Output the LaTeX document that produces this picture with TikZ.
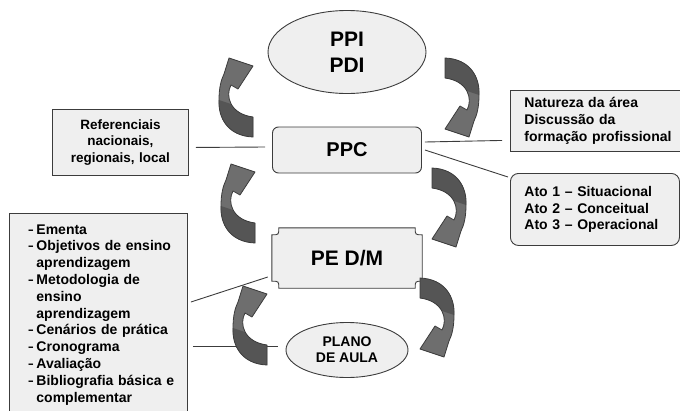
\documentclass[tikz,border=0pt]{standalone}
\usepackage{fontspec}
\setmainfont{Liberation Sans}
\usepackage{amsmath,amssymb}
\usepackage{tikz}
\usetikzlibrary{shapes,arrows,positioning,backgrounds}

\definecolor{boxfill}{HTML}{EFEFEF}
\definecolor{boxline}{HTML}{3C3C3C}
\definecolor{arrowfill}{HTML}{6E6E6E}
\definecolor{arrowdark}{HTML}{555555}

\newcommand{\dashitem}[1]{\hangindent=8pt\hangafter=1\makebox[8pt][l]{\scalebox{0.65}[1]{–}}#1\par}

\begin{document}
\begin{tikzpicture}[x=1pt,y=-1pt]
    \tikzstyle{box} = [draw=boxline, fill=boxfill, line width=0.9pt, font=\bfseries];
    \tikzstyle{oval} = [box, shape=ellipse, inner sep=0pt, align=center];
    \tikzstyle{note} = [box, shape=rectangle, anchor=north west, inner xsep=14pt];
    \tikzstyle{line} = [draw=boxline, line width=0.9pt];
    \tikzset{bendarrow/.pic={
        \fill [arrowfill] (0,39) .. controls (-25,38) and (-35,20) .. (-34,2)
            .. controls (-34,-10) and (-32,-18) .. (-29,-24) -- (-24,-40) -- (0,-32) -- (-15,-9) -- (-22,-13)
            .. controls (-28,-2) and (-23,16) .. (0,19) -- cycle;
        \fill [arrowdark] (0,39) .. controls (-25,38) and (-35,20) .. (-34,2) -- (-22.5,5.9)
            .. controls (-18.75,12.25) and (-11.5,17.5) .. (0,19) -- cycle;
        \draw [boxline, line width=0.8pt, line join=round] (0,39) .. controls (-25,38) and (-35,20) .. (-34,2)
            .. controls (-34,-10) and (-32,-18) .. (-29,-24) -- (-24,-40) -- (0,-32) -- (-15,-9) -- (-22,-13)
            .. controls (-28,-2) and (-23,16) .. (0,19) -- cycle;
    }}

    \useasboundingbox (0,0) rectangle (680,410);

    % Nodes
    \node [oval, minimum width=158pt, minimum height=83pt, font=\bfseries\fontsize{21}{26}\selectfont] (ppi) at (347,52) {PPI\\PDI};
    \node [box, node distance=98pt, below of=ppi, rounded corners=6pt, minimum width=149pt, minimum height=46pt, font=\bfseries\fontsize{20}{24}\selectfont] (ppc) {PPC};
    \node [node distance=108pt, below of=ppc, minimum width=150pt, minimum height=60pt, font=\bfseries\fontsize{21}{25}\selectfont] (pedm) {PE D/M};
    \node [oval, node distance=92pt, below of=pedm, minimum width=122pt, minimum height=55pt, font=\bfseries\fontsize{14}{16}\selectfont] (plano) {PLANO\\DE AULA};

    \node [note, text width=108pt, minimum height=66pt, align=center, font=\bfseries\fontsize{13.5}{16.7}\selectfont] (refs) at (52,109) {Referenciais\\nacionais,\\regionais, local};
    \node [note, text width=162pt, minimum height=61pt, align=left, font=\bfseries\fontsize{14}{17}\selectfont] (area) at (510,90) {Natureza da área\\Discussão da\\formação profissional};
    \node [note, rounded corners=8pt, text width=141pt, minimum height=72pt, align=left, font=\bfseries\fontsize{14}{16.6}\selectfont] (atos) at (510,173) {Ato 1 – Situacional\\Ato 2 – Conceitual\\Ato 3 – Operacional};
    \node [note, inner xsep=11.5pt, inner ysep=11pt, text width=155pt, align=left, font=\bfseries\fontsize{14}{16.8}\selectfont] (topics) at (9,213) {\leftskip=7.5pt
        \dashitem{Ementa}
        \dashitem{Objetivos de ensino\newline aprendizagem}
        \dashitem{Metodologia de\newline ensino\newline aprendizagem}
        \dashitem{Cenários de prática}
        \dashitem{Cronograma}
        \dashitem{Avaliação}
        \dashitem{Bibliografia básica e\newline complementar}};

    \begin{scope}[on background layer]
        \draw [line, fill=boxfill] ([xshift=7pt]pedm.north west) -- ([xshift=-7pt]pedm.north east)
            .. controls ([xshift=-7pt,yshift=-7pt]pedm.north east) .. ([yshift=-7pt]pedm.north east)
            -- ([yshift=7pt]pedm.south east)
            .. controls ([xshift=-7pt,yshift=7pt]pedm.south east) .. ([xshift=-7pt]pedm.south east)
            -- ([xshift=7pt]pedm.south west)
            .. controls ([xshift=7pt,yshift=7pt]pedm.south west) .. ([yshift=7pt]pedm.south west)
            -- ([yshift=-7pt]pedm.north west)
            .. controls ([xshift=7pt,yshift=-7pt]pedm.north west) .. ([xshift=7pt]pedm.north west) -- cycle;
    \end{scope}

    % Paths
    \draw [line] ([xshift=7pt,yshift=-5pt]refs.east) -- ([xshift=-7pt,yshift=3pt]ppc.west);
    \draw [line] ([xshift=3pt,yshift=8pt]ppc.east) -- ([xshift=-8pt,yshift=-19.5pt]area.west);
    \draw [line] ([xshift=3pt]ppc.east) -- ([xshift=-2pt,yshift=-4pt]atos.north west);
    \draw [line] ([xshift=3pt,yshift=-89pt]topics.north east) -- ([xshift=-4pt,yshift=-19pt]pedm.west);
    \draw [line] ([xshift=5pt,yshift=-133pt]topics.north east) -- ([xshift=-8pt,yshift=4pt]plano.west);

    % Cycle arrows
    \pic at (253,98) {bendarrow};
    \pic [rotate=180] at (445,97) {bendarrow};
    \pic at (255,204) {bendarrow};
    \pic [rotate=180] at (432,207) {bendarrow};
    \pic at (267,326) {bendarrow};
    \pic [rotate=180] at (420,317) {bendarrow};
\end{tikzpicture}
\end{document}
